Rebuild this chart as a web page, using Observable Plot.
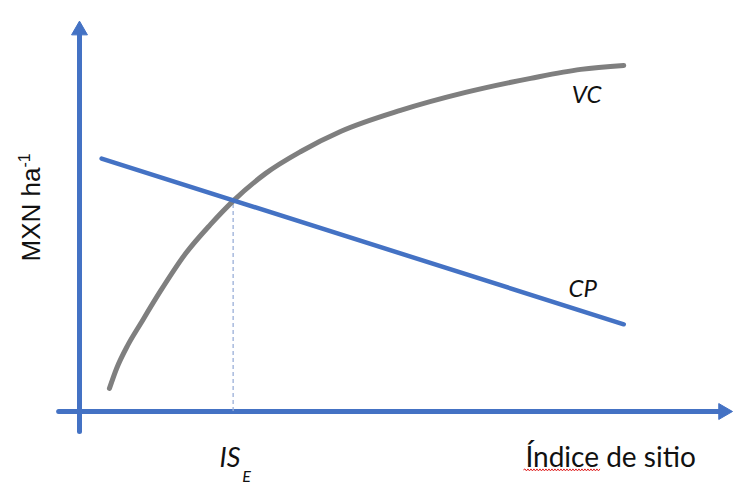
<!DOCTYPE html>
<html>
<head>
<meta charset="utf-8">
<script src="https://cdn.jsdelivr.net/npm/d3@7"></script>
<script src="https://cdn.jsdelivr.net/npm/@observablehq/plot@0.6"></script>
<style>
  html, body { margin: 0; padding: 0; background: #fff; }
  #chart svg { display: block; }
</style>
</head>
<body>
<div id="chart"></div>
<script>
// ---- Data (conceptual units: 0–100 on both axes) ----
// VC curve
const vcX = [4.6, 5.7, 7.4, 9.4, 12.4, 16.3, 20.1, 23.7, 28.6, 34.0, 40.1, 49.3, 59.3, 69.3, 77.0, 83.6];
const vcY = [5.9, 11.0, 16.9, 22.5, 30.7, 40.4, 47.8, 54.0, 60.9, 66.5, 71.6, 77.0, 81.6, 85.2, 87.5, 88.5];
// CP line
const cpX = [3.4, 83.6];
const cpY = [64.7, 22.3];
// Equilibrium site index IS_E
const isE = [{x: 23.6, y0: 0, y1: 54.0}];
// Axes (shaft extents and arrow heads)
const xAxisLine = [{x: -3.2, y: 0}, {x: 98.5, y: 0}];
const yAxisLine = [{x: 0, y: -5.1}, {x: 0, y: 96.4}];
const arrowHeads = [{x: 98.9, y: 0, rot: 90}, {x: 0, y: 97.5, rot: 0}];
// Labels
const curveLabels = [
  {text: "VC", x: 77.9, y: 80.8},
  {text: "CP", x: 77.3, y: 31.2}
];
const yLabel = [{text: "MXN ha-1", x: -7.4, y: 52.2}];
const xLabel = [{text: "Índice de sitio", x: 68.5, y: -14.3}];
const isLabel = [{text: "IS", x: 21.5, y: -14.1}];
const isSub = [{text: "E", x: 25.0, y: -18.0}];

const vc = vcX.map((x, i) => ({x, y: vcY[i]}));
const cp = cpX.map((x, i) => ({x, y: cpY[i]}));

const BLUE = "#4472C4";
const GRAY = "#7F7F7F";
const CAL = "Lato, 'Open Sans', sans-serif";

const chart = Plot.plot({
  width: 743,
  height: 485,
  marginLeft: 79,
  marginRight: 13,
  marginTop: 20,
  marginBottom: 74,
  x: {domain: [0, 100], axis: null},
  y: {domain: [0, 100], axis: null},
  style: {background: "#fff", overflow: "visible"},
  marks: [
    Plot.line(xAxisLine, {x: "x", y: "y", stroke: BLUE, strokeWidth: 5}),
    Plot.line(yAxisLine, {x: "x", y: "y", stroke: BLUE, strokeWidth: 5}),
    Plot.dot(arrowHeads, {x: "x", y: "y", rotate: "rot", symbol: "triangle", r: 5.9, fill: BLUE, stroke: BLUE, strokeWidth: 1}),
    Plot.ruleX(isE, {x: "x", y1: "y0", y2: "y1", stroke: "#9AAFD8", strokeWidth: 1.3, strokeDasharray: "4,3"}),
    Plot.line(vc, {x: "x", y: "y", curve: "monotone-x", stroke: GRAY, strokeWidth: 5}),
    Plot.line(cp, {x: "x", y: "y", stroke: BLUE, strokeWidth: 4.5}),
    Plot.text(curveLabels, {x: "x", y: "y", text: "text", fontSize: 24, fontStyle: "italic", fontFamily: CAL, fill: "#111", lineAnchor: "middle"}),
    Plot.text(isLabel, {x: "x", y: "y", text: "text", fontSize: 27, fontStyle: "italic", fontFamily: CAL, fill: "#111", textAnchor: "start", lineAnchor: "bottom"}),
    Plot.text(isSub, {x: "x", y: "y", text: "text", fontSize: 16, fontStyle: "italic", fontFamily: CAL, fill: "#111", textAnchor: "start", lineAnchor: "bottom"}),
    Plot.text(xLabel, {x: "x", y: "y", text: "text", fontSize: 28, fontFamily: CAL, fill: "#111", textAnchor: "start", lineAnchor: "bottom"}),
    Plot.text(yLabel, {x: "x", y: "y", text: "text", fontSize: 26, fontFamily: "'Liberation Sans', Arial, sans-serif", fill: "#111", rotate: -90, lineAnchor: "middle"})
  ]
});

document.getElementById("chart").appendChild(chart);

// Rich-text touches: superscript and spell-check squiggle
const ns = "http://www.w3.org/2000/svg";
chart.querySelectorAll("text").forEach(t => {
  const s = t.textContent;
  if (s === "MXN ha-1") {
    const host = t.querySelector("tspan") || t;
    host.textContent = "MXN ha";
    const sup = document.createElementNS(ns, "tspan");
    sup.setAttribute("dy", "-10");
    sup.setAttribute("font-size", "16");
    sup.textContent = "-1";
    host.appendChild(sup);
  } else if (s === "Índice de sitio") {
    const host = t.querySelector("tspan") || t;
    const box = t.getBBox();
    const w = host.getSubStringLength ? host.getSubStringLength(0, 6) : 76;
    const x0 = box.x - 2, x1 = box.x + w + 2;
    const yBase = box.y + box.height - 3.5;
    let d = `M${x0},${yBase}`;
    let up = true;
    for (let x = x0 + 1.5; x <= x1; x += 1.5) { d += `L${x.toFixed(1)},${(yBase + (up ? -1 : 1)).toFixed(1)}`; up = !up; }
    const p = document.createElementNS(ns, "path");
    p.setAttribute("d", d);
    p.setAttribute("fill", "none");
    p.setAttribute("stroke", "#E02020");
    p.setAttribute("stroke-width", "1");
    const tr = t.getAttribute("transform");
    if (tr) p.setAttribute("transform", tr);
    t.parentNode.appendChild(p);
  }
});
</script>
</body>
</html>
